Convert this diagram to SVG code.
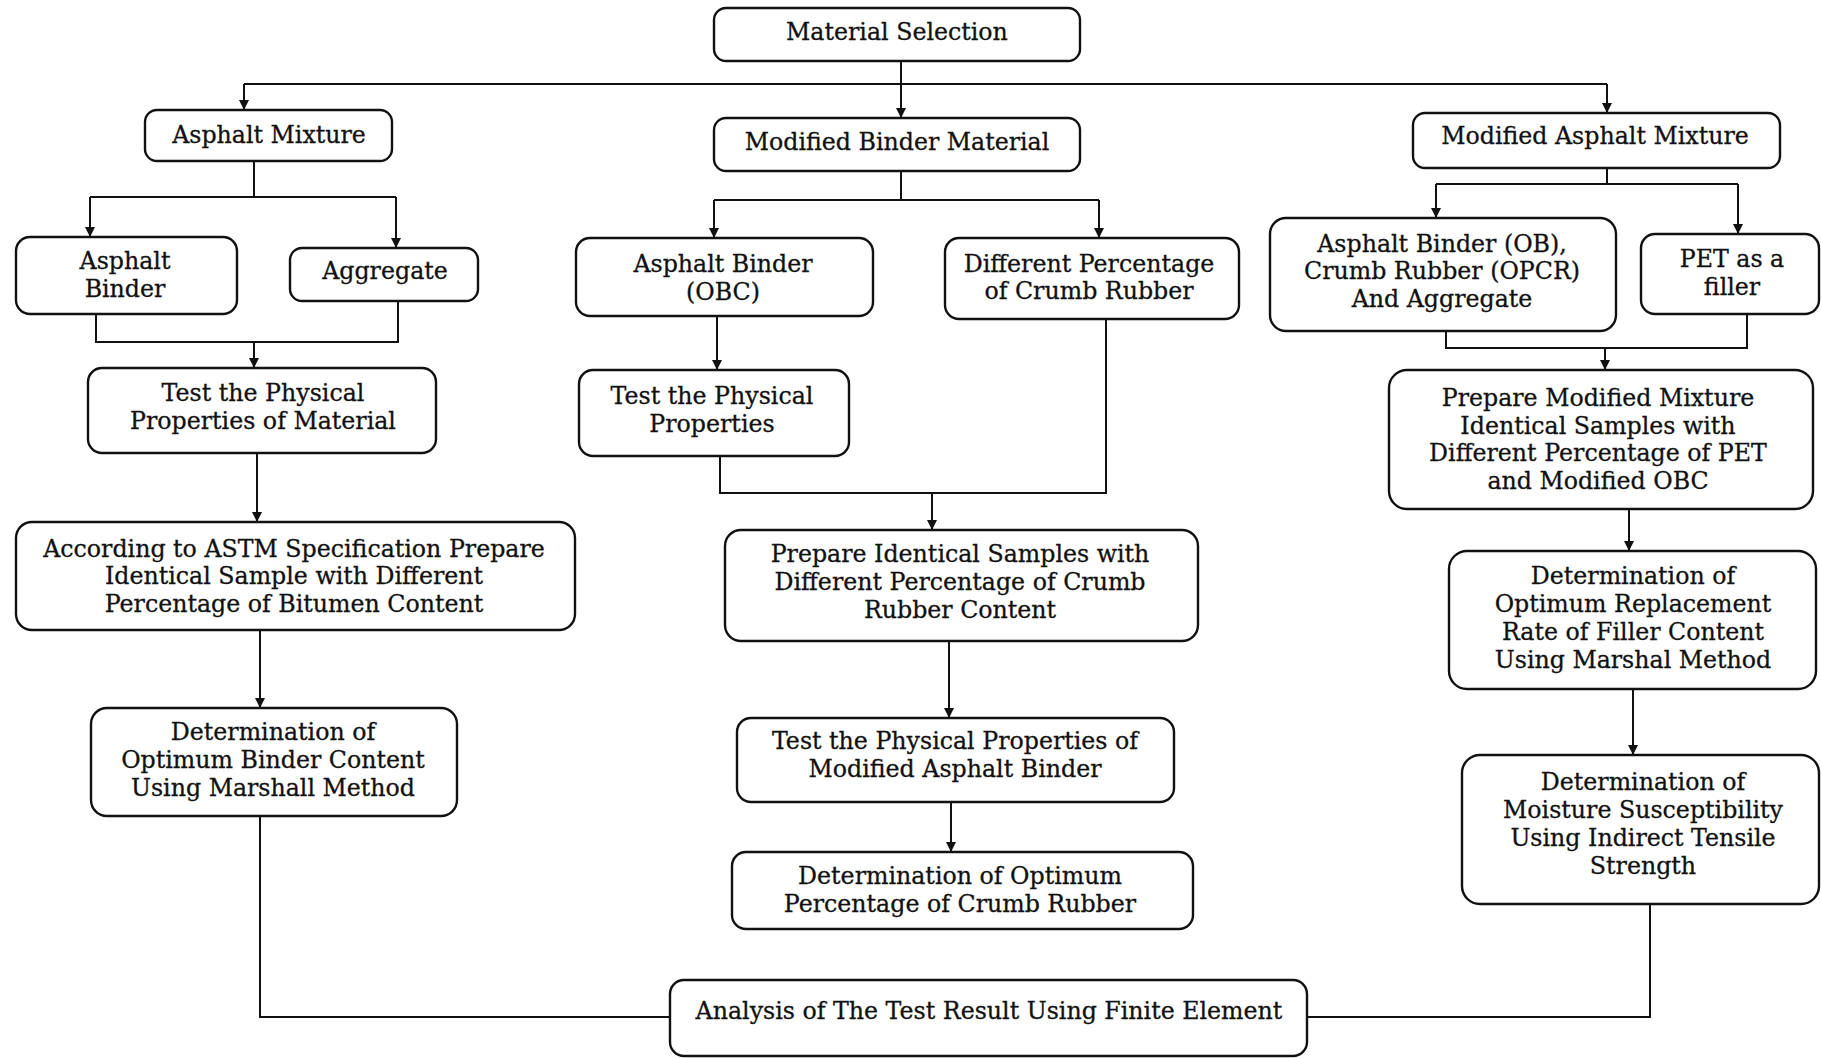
<svg xmlns="http://www.w3.org/2000/svg" width="1821" height="1058" viewBox="0 0 1821 1058">
<style>
.box{fill:#fff;stroke:#111;stroke-width:2.4}
.t{font-family:"DejaVu Serif","Liberation Serif",serif;font-size:23.7px;fill:#111;stroke:#111;stroke-width:0.3;text-anchor:middle}
.c{fill:none;stroke:#111;stroke-width:2}
</style>
<defs>
<marker id="ah" markerUnits="userSpaceOnUse" markerWidth="10" markerHeight="10" refX="10" refY="5" orient="auto">
<path d="M0,0 L10,5 L0,10 z" fill="#111"/>
</marker>
</defs>
<rect width="1821" height="1058" fill="#fff"/>
<g id="connectors">
<path class="c" d="M901,61 V118" marker-end="url(#ah)"/>
<path class="c" d="M244,84 H1607"/>
<path class="c" d="M244,84 V110" marker-end="url(#ah)"/>
<path class="c" d="M1607,84 V113" marker-end="url(#ah)"/>
<path class="c" d="M254,161 V197 M90,197 H396"/>
<path class="c" d="M90,197 V237" marker-end="url(#ah)"/>
<path class="c" d="M396,197 V248" marker-end="url(#ah)"/>
<path class="c" d="M96,314 V342 H398 V301"/>
<path class="c" d="M254,342 V368" marker-end="url(#ah)"/>
<path class="c" d="M257,453 V522" marker-end="url(#ah)"/>
<path class="c" d="M260,631 V708" marker-end="url(#ah)"/>
<path class="c" d="M260,816 V1017 H670"/>
<path class="c" d="M901,171 V200 M714,200 H1099"/>
<path class="c" d="M714,200 V238" marker-end="url(#ah)"/>
<path class="c" d="M1099,200 V238" marker-end="url(#ah)"/>
<path class="c" d="M717,316 V370" marker-end="url(#ah)"/>
<path class="c" d="M720,456 V493 H1106 V319"/>
<path class="c" d="M932,493 V530" marker-end="url(#ah)"/>
<path class="c" d="M949,641 V718" marker-end="url(#ah)"/>
<path class="c" d="M951,802 V852" marker-end="url(#ah)"/>
<path class="c" d="M1607,168 V184 M1436,184 H1738"/>
<path class="c" d="M1436,184 V218" marker-end="url(#ah)"/>
<path class="c" d="M1738,184 V234" marker-end="url(#ah)"/>
<path class="c" d="M1446,327 V348 H1747 V308"/>
<path class="c" d="M1605,348 V370" marker-end="url(#ah)"/>
<path class="c" d="M1629,509 V551" marker-end="url(#ah)"/>
<path class="c" d="M1633,689 V755" marker-end="url(#ah)"/>
<path class="c" d="M1650,892 V1017 H1307"/>
</g>
<g id="material-selection"><rect class="box" x="714" y="8" width="366" height="53" rx="12"/><text class="t" x="897" y="40">Material Selection</text></g>
<g id="asphalt-mixture"><rect class="box" x="145" y="110" width="247" height="51" rx="12"/><text class="t" x="269" y="143">Asphalt Mixture</text></g>
<g id="modified-binder-material"><rect class="box" x="714" y="118" width="366" height="53" rx="12"/><text class="t" x="897" y="150">Modified Binder Material</text></g>
<g id="modified-asphalt-mixture"><rect class="box" x="1413" y="113" width="367" height="55" rx="12"/><text class="t" x="1595" y="144">Modified Asphalt Mixture</text></g>
<g id="asphalt-binder"><rect class="box" x="16" y="237" width="221" height="77" rx="14"/><text class="t" x="125" y="269">Asphalt</text><text class="t" x="125" y="297">Binder</text></g>
<g id="aggregate"><rect class="box" x="290" y="248" width="188" height="53" rx="12"/><text class="t" x="385" y="279">Aggregate</text></g>
<g id="asphalt-binder-obc"><rect class="box" x="576" y="238" width="297" height="78" rx="14"/><text class="t" x="723" y="272">Asphalt Binder</text><text class="t" x="723" y="300">(OBC)</text></g>
<g id="different-percentage-cr"><rect class="box" x="945" y="238" width="294" height="81" rx="14"/><text class="t" x="1089" y="272">Different Percentage</text><text class="t" x="1089" y="299">of Crumb Rubber</text></g>
<g id="binder-ob-opcr-aggregate"><rect class="box" x="1270" y="218" width="346" height="113" rx="16"/><text class="t" x="1442" y="252">Asphalt Binder (OB),</text><text class="t" x="1442" y="279">Crumb Rubber (OPCR)</text><text class="t" x="1442" y="307">And Aggregate</text></g>
<g id="pet-filler"><rect class="box" x="1641" y="234" width="178" height="80" rx="14"/><text class="t" x="1732" y="267">PET as a</text><text class="t" x="1732" y="295">filler</text></g>
<g id="test-physical-material"><rect class="box" x="88" y="368" width="348" height="85" rx="14"/><text class="t" x="263" y="401">Test the Physical</text><text class="t" x="263" y="429">Properties of Material</text></g>
<g id="test-physical-properties"><rect class="box" x="579" y="370" width="270" height="86" rx="14"/><text class="t" x="712" y="404">Test the Physical</text><text class="t" x="712" y="432">Properties</text></g>
<g id="prepare-modified-mixture"><rect class="box" x="1389" y="370" width="424" height="139" rx="18"/><text class="t" x="1598" y="406">Prepare Modified Mixture</text><text class="t" x="1598" y="434">Identical Samples with</text><text class="t" x="1598" y="461">Different Percentage of PET</text><text class="t" x="1598" y="489">and Modified OBC</text></g>
<g id="astm-samples"><rect class="box" x="16" y="522" width="559" height="108" rx="16"/><text class="t" x="294" y="557">According to ASTM Specification Prepare</text><text class="t" x="294" y="584">Identical Sample with Different</text><text class="t" x="294" y="612">Percentage of Bitumen Content</text></g>
<g id="prepare-identical-cr"><rect class="box" x="725" y="530" width="473" height="111" rx="16"/><text class="t" x="960" y="562">Prepare Identical Samples with</text><text class="t" x="960" y="590">Different Percentage of Crumb</text><text class="t" x="960" y="618">Rubber Content</text></g>
<g id="determination-obc"><rect class="box" x="91" y="708" width="366" height="108" rx="16"/><text class="t" x="273" y="740">Determination of</text><text class="t" x="273" y="768">Optimum Binder Content</text><text class="t" x="273" y="796">Using Marshall Method</text></g>
<g id="test-modified-binder"><rect class="box" x="737" y="718" width="437" height="84" rx="14"/><text class="t" x="955" y="749">Test the Physical Properties of</text><text class="t" x="955" y="777">Modified Asphalt Binder</text></g>
<g id="determination-cr"><rect class="box" x="732" y="852" width="461" height="77" rx="14"/><text class="t" x="960" y="884">Determination of Optimum</text><text class="t" x="960" y="912">Percentage of Crumb Rubber</text></g>
<g id="determination-filler"><rect class="box" x="1449" y="551" width="367" height="138" rx="18"/><text class="t" x="1633" y="584">Determination of</text><text class="t" x="1633" y="612">Optimum Replacement</text><text class="t" x="1633" y="640">Rate of Filler Content</text><text class="t" x="1633" y="668">Using Marshal Method</text></g>
<g id="determination-moisture"><rect class="box" x="1462" y="755" width="357" height="149" rx="18"/><text class="t" x="1643" y="790">Determination of</text><text class="t" x="1643" y="818">Moisture Susceptibility</text><text class="t" x="1643" y="846">Using Indirect Tensile</text><text class="t" x="1643" y="874">Strength</text></g>
<g id="analysis"><rect class="box" x="670" y="980" width="637" height="76" rx="14"/><text class="t" x="989" y="1019">Analysis of The Test Result Using Finite Element</text></g>
</svg>
